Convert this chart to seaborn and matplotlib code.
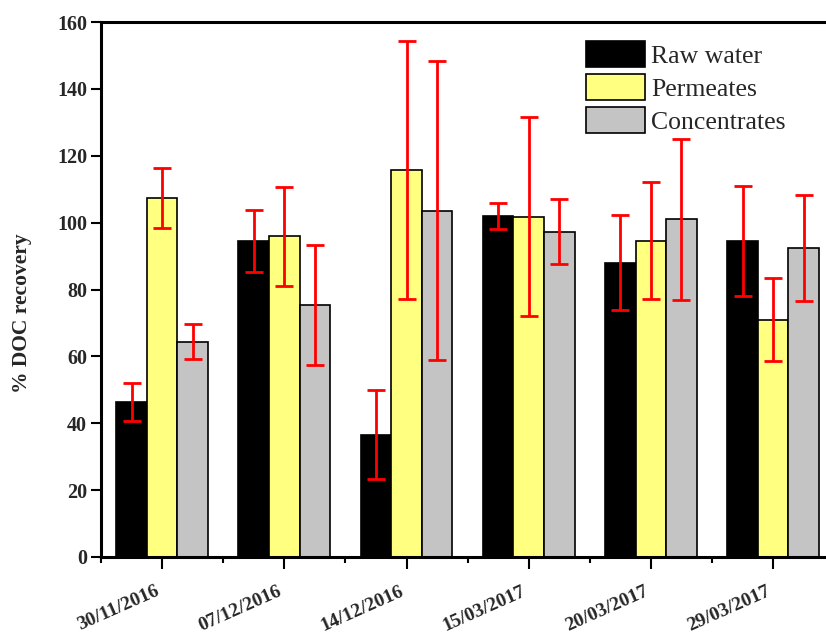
import numpy as np
import pandas as pd
import matplotlib
matplotlib.use("Agg")
import matplotlib.pyplot as plt
import seaborn as sns
from matplotlib.ticker import FixedLocator, MultipleLocator

# datos
fechas = ["30/11/2016", "07/12/2016", "14/12/2016", "15/03/2017", "20/03/2017", "29/03/2017"]
muestras = ["Raw water", "Permeates", "Concentrates"]

raw_water = [46.4, 94.6, 36.6, 101.9, 88.0, 94.6]
raw_water_err = [5.7, 9.3, 13.4, 3.9, 14.2, 16.4]
permeates = [107.4, 95.9, 115.8, 101.8, 94.6, 71.0]
permeates_err = [9.0, 14.9, 38.5, 29.8, 17.5, 12.4]
concentrates = [64.4, 75.4, 103.6, 97.3, 101.0, 92.4]
concentrates_err = [5.2, 17.9, 44.8, 9.7, 24.1, 15.9]

colores = ["#000000", "#FFFF80", "#C4C4C4"]

valores = [raw_water, permeates, concentrates]
errores = [raw_water_err, permeates_err, concentrates_err]

filas = []
for m, vals in zip(muestras, valores):
    for f, v in zip(fechas, vals):
        filas.append({"fecha": f, "muestra": m, "doc": v})
df = pd.DataFrame(filas)

sns.set_theme(style="ticks")
plt.rcParams["font.family"] = ["Liberation Serif", "DejaVu Serif"]

fig = plt.figure(figsize=(8.26, 6.39), dpi=100)
ax = fig.add_axes([101 / 826, 1 - 557 / 639, 1 - 101 / 826, (557 - 22) / 639])

sns.barplot(data=df, x="fecha", y="doc", hue="muestra", hue_order=muestras,
            order=fechas, palette=colores, width=0.75, gap=0, errorbar=None,
            edgecolor="black", linewidth=1.2, saturation=1, legend=False, ax=ax)

# barras de error (media +/- desviacion)
for cont, err in zip(ax.containers, errores):
    xs = [b.get_x() + b.get_width() / 2 for b in cont]
    ys = [b.get_height() for b in cont]
    ax.errorbar(xs, ys, yerr=err, fmt="none", ecolor="red", elinewidth=2,
                capsize=6.5, capthick=2, zorder=5)

ax.set_xlim(-0.5, -0.5 + (826 - 101) / 122.2)
ax.set_ylim(0, 160)
ax.yaxis.set_major_locator(MultipleLocator(20))
ax.xaxis.set_minor_locator(FixedLocator(np.arange(-0.5, 6, 1)))

for lado in ["left", "bottom", "top"]:
    ax.spines[lado].set_linewidth(2.2)
    ax.spines[lado].set_color("black")
ax.spines["right"].set_visible(False)

ax.tick_params(axis="x", which="major", length=8.6, width=1.5, pad=10,
               direction="out", color="black")
ax.tick_params(axis="x", which="minor", length=4.3, width=1.5,
               direction="out", color="black")
ax.tick_params(axis="y", which="major", length=7, width=1.5, pad=3,
               direction="out", color="black", labelsize=14.5)

ax.set_xticks(range(len(fechas)))
ax.set_xticklabels(fechas, rotation=24, ha="right", va="top",
                   fontsize=14, fontweight="bold")
for lab in ax.get_yticklabels():
    lab.set_fontweight("bold")

ax.set_xlabel("")
ax.set_ylabel("% DOC recovery", fontsize=15.5, fontweight="bold")
ax.yaxis.set_label_coords(-0.095, 0.456)

ax.legend(ax.containers, muestras, loc="upper left",
          bbox_to_anchor=(586 / 826, 1 - 41 / 639), bbox_transform=fig.transFigure,
          frameon=False, fontsize=18.5, handlelength=2.28, handleheight=1.2,
          handletextpad=0.25, labelspacing=0.24, borderpad=0, borderaxespad=0)

fig.savefig("out.png", dpi=100)
